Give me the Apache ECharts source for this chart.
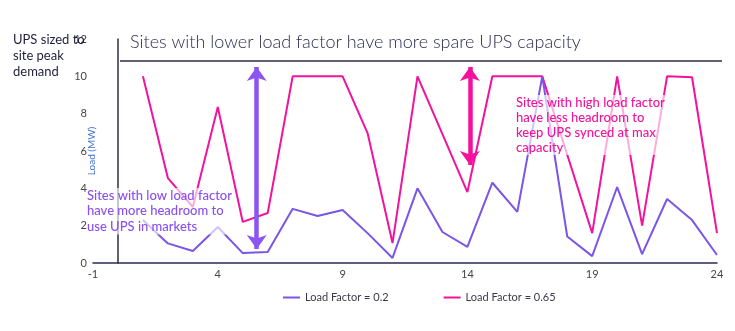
<!DOCTYPE html>
<html>
<head>
<meta charset="utf-8">
<script src="https://cdn.jsdelivr.net/npm/echarts@6/dist/echarts.min.js"></script>
<style>
html,body{margin:0;padding:0;background:#fff;}
#chart{width:735px;height:331px;}
</style>
</head>
<body>
<div id="chart"></div>
<script>
// Data
var sites = [1,2,3,4,5,6,7,8,9,10,11,12,13,14,15,16,17,18,19,20,21,22,23,24];
var loadFactor02 = [2.3, 1.05, 0.64, 1.93, 0.53, 0.59, 2.9, 2.52, 2.84, 1.6, 0.27, 4.0, 1.66, 0.86, 4.3, 2.74, 10, 1.42, 0.37, 4.07, 0.48, 3.43, 2.3, 0.43];
var loadFactor065 = [10, 4.55, 3.0, 8.36, 2.2, 2.68, 10, 10, 10, 6.96, 1.07, 10, 6.9, 3.8, 10, 10, 10, 5.8, 1.6, 10, 2.0, 10, 9.95, 1.6];
var seriesNames = ['Load Factor = 0.2', 'Load Factor = 0.65'];
var titleText = 'Sites with lower load factor have more spare UPS capacity';
var sideText = 'UPS sized to\nsite peak\ndemand';
var noteLow = 'Sites with low load factor\nhave more headroom to\nuse UPS in markets';
var noteHigh = 'Sites with high load factor\nhave less headroom to\nkeep UPS synced at max\ncapacity';
var arrowLow = [[5.56, 10.5], [5.56, 0.75]];
var arrowHigh = [[14.1, 10.5], [14.1, 5.25]];

var PURPLE = '#7a55e6';
var MAGENTA = '#f2139c';
var NAVY = '#2b2b4d';
var FONT = 'Lato';

function pairs(vals){ return sites.map(function(x,i){ return [x, vals[i]]; }); }

var chart = echarts.init(document.getElementById('chart'), null, {renderer:'canvas'});
chart.setOption({
  animation: false,
  textStyle: {fontFamily: FONT},
  grid: {left: 93, right: 18, top: 39, bottom: 68, containLabel: false},
  legend: {
    data: seriesNames,
    left: 283, top: 292, padding: 0,
    itemWidth: 17, itemHeight: 2, itemGap: 55,
    icon: 'rect',
    textStyle: {fontSize: 11, color: '#3a3a4a', fontFamily: FONT}
  },
  xAxis: {
    type: 'value', min: -1, max: 24, interval: 5,
    axisLine: {show: true, lineStyle: {color: NAVY, width: 1.5}},
    axisTick: {show: false},
    splitLine: {show: false},
    axisLabel: {fontSize: 11, color: '#444', margin: 6}
  },
  yAxis: {
    type: 'value', min: 0, max: 12, interval: 2,
    name: 'Load (MW)', nameLocation: 'middle', nameGap: -4, nameMoveOverlap: false,
    nameTextStyle: {color: '#3d6fd6', fontSize: 10, fontFamily: FONT},
    axisLine: {show: true, onZero: true, lineStyle: {color: NAVY, width: 1.5}},
    axisTick: {show: false},
    splitLine: {show: false},
    axisLabel: {fontSize: 11, color: '#444', margin: 6}
  },
  series: [
    {
      name: seriesNames[0], type: 'line', data: pairs(loadFactor02),
      symbol: 'none', lineStyle: {color: PURPLE, width: 2}, itemStyle: {color: PURPLE},
      z: 3,
      markLine: {
        silent: true, symbol: ['arrow','arrow'], symbolSize: [15, 14],
        label: {show: false},
        lineStyle: {color: '#8a55f0', width: 4.5, type: 'solid'},
        data: [[{coord: arrowLow[0]}, {coord: arrowLow[1]}]]
      }
    },
    {
      name: seriesNames[1], type: 'line', data: pairs(loadFactor065),
      symbol: 'none', lineStyle: {color: MAGENTA, width: 2}, itemStyle: {color: MAGENTA},
      z: 2,
      markLine: {
        silent: true, symbol: ['arrow','arrow'], symbolSize: [15, 14],
        label: {show: false},
        lineStyle: {color: '#f5109e', width: 4.5, type: 'solid'},
        data: [[{coord: arrowHigh[0]}, {coord: arrowHigh[1]}]]
      }
    }
  ],
  graphic: [
    {type: 'text', left: 130, top: 33, z: 10,
      style: {text: titleText, font: '300 18px ' + FONT, fill: NAVY}},
    {type: 'line', z: 10, shape: {x1: 120, y1: 61, x2: 722, y2: 61},
      style: {stroke: NAVY, lineWidth: 1.5}},
    {type: 'text', left: 13, top: 32, z: 10,
      style: {text: sideText, font: '13px ' + FONT, fill: '#1f1f3d', lineHeight: 16}},
    {type: 'text', left: 87, top: 188, z: 20,
      style: {text: noteLow, font: '500 13px ' + FONT, fill: '#8a50f0', lineHeight: 15.5,
        backgroundColor: 'rgba(255,255,255,0.65)'}},
    {type: 'text', left: 516, top: 95, z: 20,
      style: {text: noteHigh, font: '500 13px ' + FONT, fill: '#f2139c', lineHeight: 15,
        backgroundColor: 'rgba(255,255,255,0.65)'}}
  ]
});
</script>
</body>
</html>
